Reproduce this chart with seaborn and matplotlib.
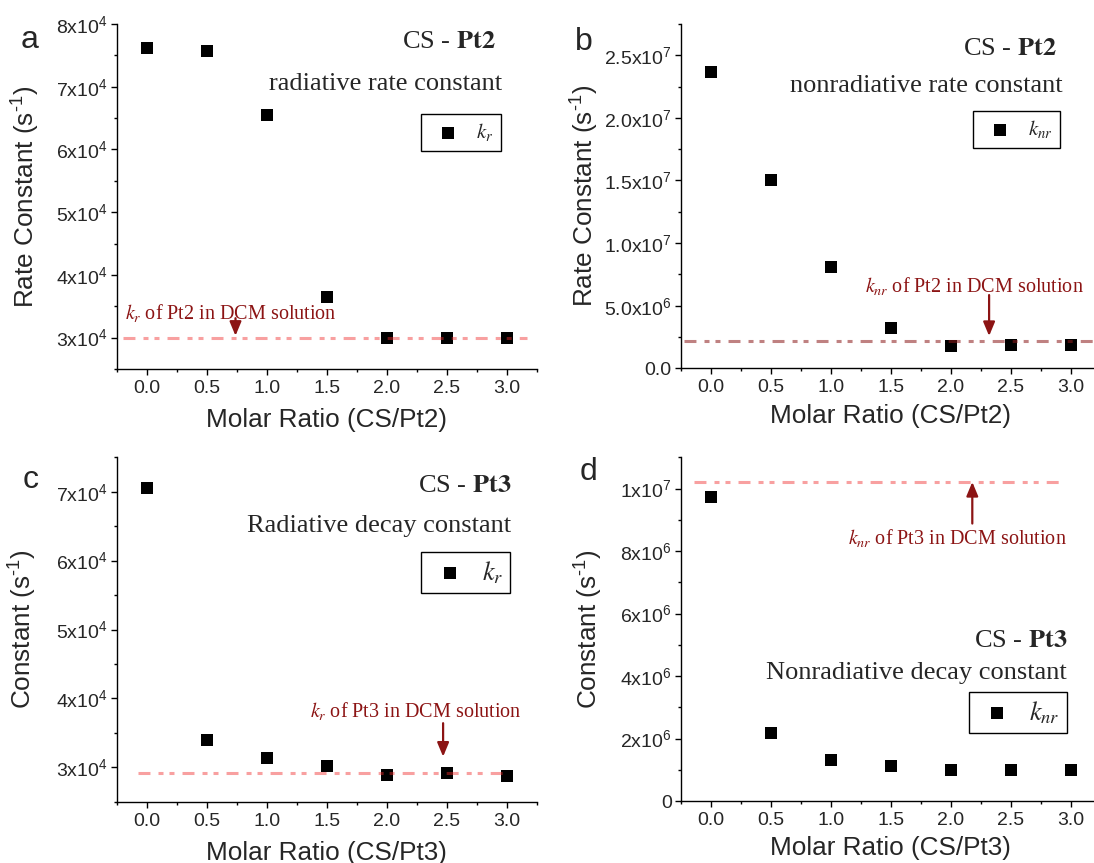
import matplotlib
matplotlib.use("Agg")
import numpy as np
import pandas as pd
import seaborn as sns
import matplotlib.pyplot as plt
from matplotlib.ticker import MultipleLocator

# ---------------- data ----------------
ratio = [0.0, 0.5, 1.0, 1.5, 2.0, 2.5, 3.0]
kr_pt2 = [7.61e4, 7.57e4, 6.55e4, 3.65e4, 3.00e4, 2.99e4, 3.00e4]
knr_pt2 = [2.367e7, 1.503e7, 0.811e7, 0.324e7, 0.178e7, 0.186e7, 0.186e7]
kr_pt3 = [7.06e4, 3.40e4, 3.13e4, 3.02e4, 2.89e4, 2.91e4, 2.88e4]
knr_pt3 = [0.973e7, 0.218e7, 0.131e7, 0.112e7, 0.099e7, 0.099e7, 0.099e7]

kr_pt2_dcm = 3.0e4
knr_pt2_dcm = 0.22e7
kr_pt3_dcm = 2.92e4
knr_pt3_dcm = 1.021e7

xticks = [0.0, 0.5, 1.0, 1.5, 2.0, 2.5, 3.0]
xtick_labels = ["0.0", "0.5", "1.0", "1.5", "2.0", "2.5", "3.0"]

yticks_a = [3e4, 4e4, 5e4, 6e4, 7e4, 8e4]
ylabels_a = ["3x10$^{4}$", "4x10$^{4}$", "5x10$^{4}$", "6x10$^{4}$", "7x10$^{4}$", "8x10$^{4}$"]
yticks_b = [0, 5e6, 1e7, 1.5e7, 2e7, 2.5e7]
ylabels_b = ["0.0", "5.0x10$^{6}$", "1.0x10$^{7}$", "1.5x10$^{7}$", "2.0x10$^{7}$", "2.5x10$^{7}$"]
yticks_c = [3e4, 4e4, 5e4, 6e4, 7e4]
ylabels_c = ["3x10$^{4}$", "4x10$^{4}$", "5x10$^{4}$", "6x10$^{4}$", "7x10$^{4}$"]
yticks_d = [0, 2e6, 4e6, 6e6, 8e6, 1e7]
ylabels_d = ["0", "2x10$^{6}$", "4x10$^{6}$", "6x10$^{6}$", "8x10$^{6}$", "1x10$^{7}$"]

# ---------------- style ----------------
sns.set_style("ticks")
plt.rcParams["font.family"] = ["Liberation Sans", "DejaVu Sans"]
plt.rcParams["mathtext.fontset"] = "custom"
plt.rcParams["mathtext.rm"] = "Liberation Sans"
plt.rcParams["mathtext.it"] = "Liberation Sans:italic"
plt.rcParams["mathtext.bf"] = "Liberation Sans:bold"
plt.rcParams["mathtext.default"] = "regular"
plt.rcParams["lines.scale_dashes"] = False

W, H = 1094, 863
fig = plt.figure(figsize=(W / 100, H / 100), dpi=100)

SERIF = ["Liberation Serif", "DejaVu Serif"]
DARKRED = "#8c1414"
DASH = (8.6, 5.8, 3.6, 4.3, 3.6, 5.8)
KR = r"$\mathit{k}_{\mathit{r}}$"
KNR = r"$\mathit{k}_{\mathit{nr}}$"


def px_axes(left, top, right, bottom):
    return fig.add_axes([left / W, 1 - bottom / H, (right - left) / W, (bottom - top) / H])


panels = [
    dict(name="a", rect=(116.7, 24, 536.7, 369), y=kr_pt2, ylim=(2.5e4, 8e4), yt=yticks_a, yl=ylabels_a,
         ymin=5e3, ylabel=r"Rate Constant (s$^{\text{-}1}$)", xlabel="Molar Ratio (CS/Pt2)",
         ref=kr_pt2_dcm, ref_x=(-0.2, 3.17), ref_color="#f02c2c", ref_alpha=0.45,
         title1=r"CS - $\mathbf{Pt2}$", t1=(0.902, 0.948), title2="radiative rate constant", t2=(0.918, 0.826),
         leg=KR, leg_anchor=(0.914, 0.739), leg_fs=15, leg_hl=1.9, leg_bp=0.35,
         ann=KR + " of Pt2 in DCM solution", ann_xy=(-0.18, 3.295e4),
         arrow_from=(0.74, 3.31e4), arrow_to=(0.74, 3.03e4),
         letter=(29.7, 40), ylab_x=-0.178, xlab_y=-0.114),
    dict(name="b", rect=(680.7, 24, 1100.7, 368.3), y=knr_pt2, ylim=(0, 2.75e7), yt=yticks_b, yl=ylabels_b,
         ymin=2.5e6, ylabel=r"Rate Constant (s$^{\text{-}1}$)", xlabel="Molar Ratio (CS/Pt2)",
         ref=knr_pt2_dcm, ref_x=(-0.22, 3.4), ref_color="#8c1a1a", ref_alpha=0.55,
         title1=r"CS - $\mathbf{Pt2}$", t1=(0.896, 0.927), title2="nonradiative rate constant", t2=(0.91, 0.82),
         leg=KNR, leg_anchor=(0.903, 0.747), leg_fs=15, leg_hl=1.9, leg_bp=0.35,
         ann=KNR + " of Pt2 in DCM solution", ann_xy=(1.286, 0.611e7),
         arrow_from=(2.32, 0.585e7), arrow_to=(2.32, 0.258e7),
         letter=(583.6, 42), ylab_x=-0.19, xlab_y=-0.105),
    dict(name="c", rect=(116.7, 457.3, 536.7, 801.7), y=kr_pt3, ylim=(2.5e4, 7.5e4), yt=yticks_c, yl=ylabels_c,
         ymin=5e3, ylabel=r"Constant (s$^{\text{-}1}$)", xlabel="Molar Ratio (CS/Pt3)",
         ref=kr_pt3_dcm, ref_x=(-0.074, 3.02), ref_color="#f02c2c", ref_alpha=0.45,
         title1=r"CS - $\mathbf{Pt3}$", t1=(0.939, 0.917), title2="Radiative decay constant", t2=(0.939, 0.80),
         leg=KR, leg_anchor=(0.937, 0.726), leg_fs=19, leg_hl=1.6, leg_bp=0.28,
         ann=KR + " of Pt3 in DCM solution", ann_xy=(1.365, 3.734e4),
         arrow_from=(2.47, 3.64e4), arrow_to=(2.47, 3.154e4),
         letter=(30.7, 480), ylab_x=-0.185, xlab_y=-0.114),
    dict(name="d", rect=(680.7, 457.3, 1100.7, 801), y=knr_pt3, ylim=(0, 1.1e7), yt=yticks_d, yl=ylabels_d,
         ymin=1e6, ylabel=r"Constant (s$^{\text{-}1}$)", xlabel="Molar Ratio (CS/Pt3)",
         ref=knr_pt3_dcm, ref_x=(-0.14, 2.95), ref_color="#f02c2c", ref_alpha=0.45,
         title1=r"CS - $\mathbf{Pt3}$", t1=(0.921, 0.466), title2="Nonradiative decay constant", t2=(0.92, 0.372),
         leg=KNR, leg_anchor=(0.92, 0.318), leg_fs=19, leg_hl=1.6, leg_bp=0.28,
         ann=KNR + " of Pt3 in DCM solution", ann_xy=(1.14, 0.822e7),
         arrow_from=(2.18, 0.888e7), arrow_to=(2.18, 1.021e7),
         letter=(588.9, 471.7), ylab_x=-0.18, xlab_y=-0.102),
]

for p in panels:
    ax = px_axes(*p["rect"])
    df = pd.DataFrame({"ratio": ratio, "k": p["y"]})
    sns.scatterplot(data=df, x="ratio", y="k", ax=ax, marker="s", color="black", s=66,
                    linewidth=0, label=p["leg"], zorder=2)
    ax.plot(p["ref_x"], [p["ref"], p["ref"]], color=p["ref_color"], alpha=p["ref_alpha"],
            lw=2.2, dashes=DASH, dash_capstyle="butt", zorder=3)

    ax.set_xlim(-0.25, 3.25)
    ax.set_ylim(*p["ylim"])
    ax.set_xticks(xticks, xtick_labels)
    ax.set_yticks(p["yt"], p["yl"])
    ax.xaxis.set_minor_locator(MultipleLocator(0.25))
    ax.yaxis.set_minor_locator(MultipleLocator(p["ymin"]))
    ax.tick_params(which="major", direction="out", length=4, width=1, labelsize=14, color="black")
    ax.tick_params(which="minor", direction="out", length=2.2, width=1, color="black")
    ax.tick_params(axis="x", which="major", pad=4)
    ax.tick_params(axis="y", which="major", pad=2.5)
    sns.despine(ax=ax)
    for s in ("left", "bottom"):
        ax.spines[s].set_linewidth(1.0)
        ax.spines[s].set_color("black")

    ax.set_xlabel(p["xlabel"], fontsize=18.8)
    ax.set_ylabel(p["ylabel"], fontsize=18.8)
    ax.xaxis.set_label_coords(0.5, p["xlab_y"])
    ax.yaxis.set_label_coords(p["ylab_x"], 0.5)
    ax.xaxis.label.set_va("top")

    ax.text(*p["t1"], p["title1"], transform=ax.transAxes, ha="right", va="center",
            fontsize=19, family=SERIF, math_fontfamily="stix")
    ax.text(*p["t2"], p["title2"], transform=ax.transAxes, ha="right", va="center",
            fontsize=19, family=SERIF)

    leg = ax.legend(loc="upper right", bbox_to_anchor=p["leg_anchor"], frameon=True, fancybox=False,
                    framealpha=1, edgecolor="black", fontsize=p["leg_fs"], borderpad=p["leg_bp"],
                    handlelength=p["leg_hl"], handletextpad=0.4, borderaxespad=0)
    leg.get_frame().set_linewidth(1.0)
    for t in leg.get_texts():
        t.set_math_fontfamily("stix")
        t.set_family(SERIF)

    ax.text(*p["ann_xy"], p["ann"], ha="left", va="baseline", fontsize=14.5, color=DARKRED,
            family=SERIF, math_fontfamily="stix", zorder=4)
    ax.annotate("", xy=p["arrow_to"], xytext=p["arrow_from"],
                arrowprops=dict(arrowstyle="-|>,head_length=0.6,head_width=0.25", color=DARKRED,
                                lw=1.6, mutation_scale=14, shrinkA=0, shrinkB=0), zorder=4)

    fig.text(p["letter"][0] / W, 1 - p["letter"][1] / H, p["name"], ha="center", va="center",
             fontsize=23)

fig.savefig("out.png", dpi=100)
